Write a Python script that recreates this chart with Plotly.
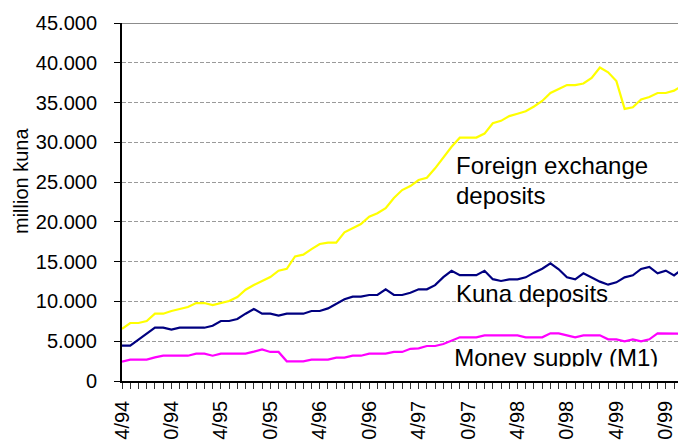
import plotly.graph_objects as go

# Monthly categories from 4/94 onwards
months = []
y, m = 1994, 4
for _ in range(70):
    months.append(f"{m}/{y % 100:02d}")
    m += 1
    if m > 12:
        m, y = 1, y + 1

# Tick labels shown every 6 months
tick_labels = ["4/94", "10/94", "4/95", "10/95", "4/96", "10/96",
               "4/97", "10/97", "4/98", "10/98", "4/99", "10/99"]

# million kuna
foreign_exchange = [6540, 7290, 7290, 7540, 8460, 8460, 8800, 9050, 9300, 9800,
                    9800, 9550, 9800, 10050, 10560, 11480, 12070, 12570, 13070, 13870,
                    14100, 15650, 15880, 16570, 17220, 17390, 17390, 18690, 19190, 19730,
                    20650, 21080, 21710, 23000, 24000, 24500, 25260, 25550, 26730, 28100,
                    29450, 30580, 30580, 30600, 31100, 32400, 32700, 33300, 33600, 33900,
                    34500, 35200, 36200, 36700, 37200, 37200, 37400, 38100, 39400, 38800,
                    37700, 34200, 34400, 35400, 35700, 36200, 36200, 36500, 37100, 38300]

kuna_deposits = [4440, 4440, 5190, 5950, 6700, 6700, 6450, 6700, 6700, 6700,
                 6700, 6950, 7540, 7540, 7790, 8460, 9050, 8460, 8460, 8210,
                 8460, 8460, 8460, 8800, 8800, 9130, 9680, 10270, 10600, 10600,
                 10810, 10810, 11520, 10810, 10810, 11100, 11520, 11520, 12050, 13050,
                 13850, 13300, 13300, 13300, 13850, 12800, 12570, 12780, 12780, 13030,
                 13620, 14120, 14790, 14040, 13030, 12780, 13530, 13030, 12490, 12110,
                 12400, 13030, 13280, 14080, 14330, 13530, 13870, 13280, 14080, 12800]

money_supply = [2430, 2680, 2680, 2680, 2970, 3180, 3180, 3180, 3180, 3440,
                3440, 3180, 3440, 3440, 3440, 3440, 3690, 3980, 3650, 3650,
                2470, 2470, 2470, 2680, 2680, 2680, 2930, 2930, 3180, 3180,
                3440, 3440, 3440, 3650, 3650, 4050, 4100, 4400, 4400, 4650,
                5070, 5490, 5490, 5490, 5740, 5740, 5740, 5740, 5740, 5490,
                5490, 5490, 5990, 5990, 5740, 5490, 5740, 5740, 5740, 5240,
                5240, 4990, 5240, 4990, 5240, 5990, 5990, 5990, 5990, 5950]

FONT = "Liberation Sans, Arial, sans-serif"

fig = go.Figure()
fig.add_trace(go.Scatter(x=months, y=foreign_exchange, mode="lines",
                         line=dict(color="#FFFF00", width=2.2), showlegend=False))
fig.add_trace(go.Scatter(x=months, y=kuna_deposits, mode="lines",
                         line=dict(color="#000080", width=2.2), showlegend=False))
fig.add_trace(go.Scatter(x=months, y=money_supply, mode="lines",
                         line=dict(color="#FF00FF", width=2.2), showlegend=False))

# clipped series label (lower part hidden as in the original)
fig.add_trace(go.Scatter(x=[0.589], y=[0.0178], xaxis="x2", yaxis="y2",
                         mode="text", text=["Money supply (M1)"],
                         textposition="middle right", cliponaxis=True,
                         textfont=dict(size=24, color="black", family=FONT),
                         showlegend=False, hoverinfo="skip"))

ticktext = []
for i, mo in enumerate(months):
    ticktext.append(tick_labels[i // 6] if i % 6 == 0 and i // 6 < len(tick_labels) else "")

fig.update_layout(
    width=678, height=432,
    margin=dict(l=114, r=0, t=15, b=59),
    paper_bgcolor="white", plot_bgcolor="rgba(0,0,0,0)",
    separators=",.",
    font=dict(family=FONT, size=20, color="black"),
    xaxis=dict(type="category", range=[0, 68.45], tickmode="array",
               tickvals=months, ticktext=ticktext, tickangle=-90,
               ticks="outside", ticklen=6, tickcolor="#333", tickwidth=1,
               tickfont=dict(size=20, color="black"), ticklabelstandoff=4,
               showline=True, linecolor="black", linewidth=1.5,
               showgrid=False, zeroline=False, automargin=False),
    yaxis=dict(range=[0, 45000], dtick=5000, tickformat=",d",
               ticks="outside", ticklen=6, tickcolor="black", tickwidth=1,
               tickfont=dict(size=20, color="black"), ticklabelstandoff=13,
               showline=True, linecolor="black", linewidth=2,
               showgrid=True, gridcolor="#9a9a9a", griddash="4px,2px", gridwidth=1,
               zeroline=False, automargin=False),
    xaxis2=dict(domain=[0, 1], range=[0, 1], anchor="y2", visible=False),
    yaxis2=dict(domain=[0.0405, 1], range=[0, 1], anchor="x2", visible=False),
    shapes=[dict(type="line", xref="paper", yref="y", x0=0, x1=1, y0=45000, y1=45000,
                 line=dict(color="#666", width=1.5))],
    annotations=[
        dict(text="million kuna", textangle=-90, xref="paper", yref="paper",
             x=-0.179, y=0.5587, xanchor="center", yanchor="middle",
             showarrow=False, font=dict(size=20, color="black")),
        dict(text="Foreign exchange", xref="paper", yref="paper", x=0.589, y=0.6025,
             xanchor="left", yanchor="middle", showarrow=False,
             font=dict(size=24, color="black")),
        dict(text="deposits", xref="paper", yref="paper", x=0.589, y=0.5168,
             xanchor="left", yanchor="middle", showarrow=False,
             font=dict(size=24, color="black")),
        dict(text="Kuna deposits", xref="paper", yref="paper", x=0.589, y=0.245,
             xanchor="left", yanchor="middle", showarrow=False,
             font=dict(size=24, color="black")),
    ],
)

fig.write_html("out.html")
